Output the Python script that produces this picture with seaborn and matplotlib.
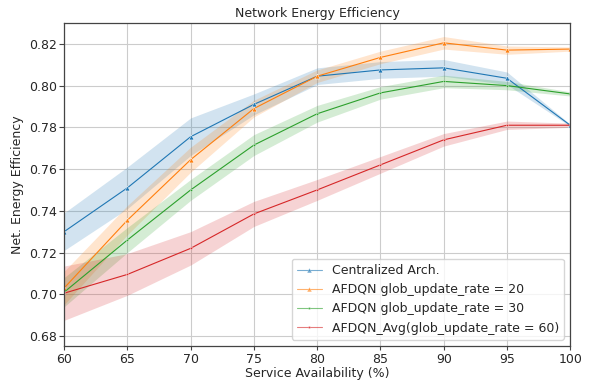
import numpy as np
import pandas as pd
import matplotlib
matplotlib.use("Agg")
import matplotlib.pyplot as plt
import seaborn as sns

availability = [60, 65, 70, 75, 80, 85, 90, 95, 100]
series_names = ["Centralized Arch.", "AFDQN glob_update_rate = 20",
                "AFDQN glob_update_rate = 30", "AFDQN_Avg(glob_update_rate = 60)"]
centralized = [0.730, 0.751, 0.7755, 0.791, 0.8045, 0.8075, 0.8085, 0.8035, 0.781]
afdqn_20 = [0.703, 0.7355, 0.7645, 0.789, 0.8045, 0.8135, 0.8205, 0.817, 0.8175]
afdqn_30 = [0.701, 0.726, 0.750, 0.7715, 0.7865, 0.7965, 0.802, 0.800, 0.796]
afdqn_avg60 = [0.7005, 0.7095, 0.722, 0.7385, 0.7500, 0.7620, 0.7740, 0.781, 0.781]
# half-widths of shaded confidence bands
centralized_ci = [0.009, 0.010, 0.009, 0.005, 0.004, 0.004, 0.004, 0.003, 0.0005]
afdqn_20_ci = [0.008, 0.007, 0.006, 0.004, 0.003, 0.003, 0.003, 0.002, 0.001]
afdqn_30_ci = [0.007, 0.006, 0.005, 0.005, 0.004, 0.003, 0.003, 0.002, 0.001]
afdqn_avg60_ci = [0.013, 0.010, 0.008, 0.006, 0.005, 0.004, 0.003, 0.002, 0.001]

values = [centralized, afdqn_20, afdqn_30, afdqn_avg60]
cis = [centralized_ci, afdqn_20_ci, afdqn_30_ci, afdqn_avg60_ci]
colors = ["#1f77b4", "#ff7f0e", "#2ca02c", "#d62728"]
markers = ["^", "^", ".", "."]

rows = []
for name, vals, ci in zip(series_names, values, cis):
    for x, v, c in zip(availability, vals, ci):
        rows.append({"Service Availability (%)": x, "value": v, "ci": c, "series": name})
df = pd.DataFrame(rows)

sns.set_style("whitegrid")
plt.rcParams['font.family'] = ['DejaVu Sans']

fig = plt.figure(figsize=(5.94, 3.80), dpi=100)
ax = fig.add_axes([0.108, 0.0895, 0.852, 0.850])

sns.lineplot(data=df, x="Service Availability (%)", y="value", hue="series",
             style="series", markers=markers, dashes=False, palette=colors,
             errorbar=None, linewidth=0.8, markersize=3.5, markeredgewidth=0.3,
             ax=ax)
for name, col in zip(series_names, colors):
    sub = df[df["series"] == name]
    ax.fill_between(sub["Service Availability (%)"], sub["value"] - sub["ci"],
                    sub["value"] + sub["ci"], color=col, alpha=0.2, linewidth=0)

ax.set_xlim(60, 100)
ax.set_ylim(0.6752, 0.830)
ax.set_xticks([60, 65, 70, 75, 80, 85, 90, 95, 100])
ax.set_yticks([0.68, 0.70, 0.72, 0.74, 0.76, 0.78, 0.80, 0.82])
ax.set_yticklabels(["0.68", "0.70", "0.72", "0.74", "0.76", "0.78", "0.80", "0.82"])
ax.tick_params(axis="x", labelsize=9, length=3, pad=2, color="#444444", bottom=True)
ax.tick_params(axis="y", labelsize=9, length=3.5, pad=1.5, color="#444444", left=True)
ax.set_xlabel("Service Availability (%)", fontsize=9, labelpad=1)
ax.set_ylabel("Net. Energy Efficiency", fontsize=9, labelpad=4)
ax.set_title("Network Energy Efficiency", fontsize=9, pad=4)
ax.grid(True, color="#cccccc", linewidth=0.8)
for s in ax.spines.values():
    s.set_color("#444444")
    s.set_linewidth(0.9)
leg = ax.legend(title=None, loc="lower right", fontsize=9, frameon=True,
                handlelength=2.0, borderaxespad=0.5)
for h in leg.get_lines():
    h.set_alpha(0.6)

fig.savefig("out.png", dpi=100)
